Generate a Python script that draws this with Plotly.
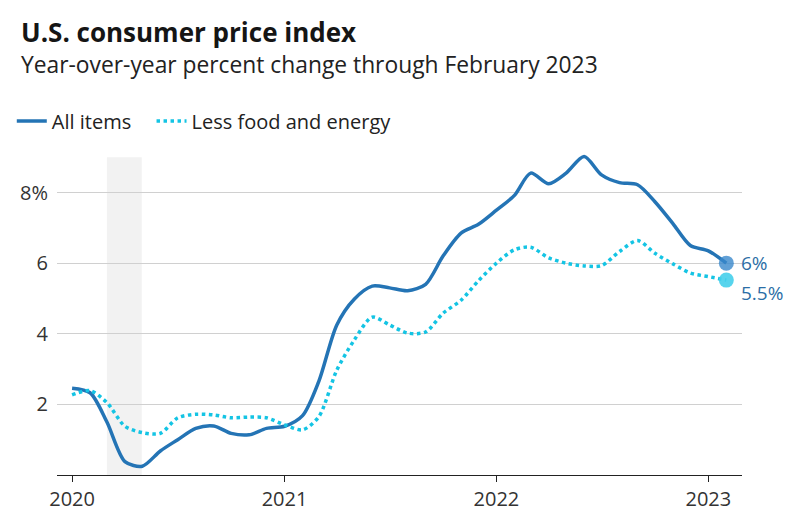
import pandas as pd
import plotly.graph_objects as go

# ---- data ----
months = pd.date_range("2020-01-01", "2023-02-01", freq="MS")
all_items = [2.46, 2.33, 1.50, 0.38, 0.25, 0.68, 1.00, 1.32, 1.39, 1.18, 1.14, 1.32,
             1.38, 1.68, 2.65, 4.25, 4.98, 5.35, 5.30, 5.22, 5.40, 6.20, 6.85, 7.10,
             7.50, 7.92, 8.55, 8.25, 8.55, 9.02, 8.50, 8.28, 8.22, 7.74, 7.12, 6.50,
             6.35, 6.00]
core = [2.27, 2.39, 2.05, 1.38, 1.20, 1.18, 1.62, 1.72, 1.70, 1.62, 1.64, 1.62,
        1.42, 1.28, 1.65, 2.97, 3.82, 4.47, 4.25, 4.02, 4.05, 4.58, 4.95, 5.50,
        6.00, 6.38, 6.45, 6.15, 6.00, 5.92, 5.93, 6.33, 6.64, 6.28, 5.98, 5.72,
        5.62, 5.52]
end_labels = ["6%", "5.5%"]
recession = ("2020-03-01", "2020-04-30")
year_ticks = ["2020-01-01", "2021-01-01", "2022-01-01", "2023-01-01"]
year_labels = ["2020", "2021", "2022", "2023"]
y_ticks = [2, 4, 6, 8]
y_labels = ["2", "4", "6", "8%"]

BLUE = "#2474b5"
CYAN = "#14c4e4"
FONT = "Open Sans"

fig = go.Figure()
fig.add_trace(go.Scatter(x=months, y=all_items, name="All items", mode="lines",
                         line=dict(color=BLUE, width=3.5, shape="spline", smoothing=0.8),
                         hoverinfo="skip", legend="legend"))
fig.add_trace(go.Scatter(x=months, y=core, name="Less food and energy", mode="lines",
                         line=dict(color=CYAN, width=3.5, dash="dot", shape="spline", smoothing=0.8),
                         hoverinfo="skip", legend="legend2"))
# end markers
fig.add_trace(go.Scatter(x=[months[-1]], y=[all_items[-1]], mode="markers", showlegend=False,
                         marker=dict(size=15, color="#3a88cc", opacity=0.8), hoverinfo="skip",
                         cliponaxis=False))
fig.add_trace(go.Scatter(x=[months[-1]], y=[core[-1]], mode="markers", showlegend=False,
                         marker=dict(size=15, color="#45cfeb", opacity=0.9), hoverinfo="skip",
                         cliponaxis=False))

for val, lab, ys in zip([all_items[-1], core[-1]], end_labels, [0, -13]):
    fig.add_annotation(x=months[-1], y=val, text=lab, showarrow=False, xanchor="left",
                       yanchor="middle", xshift=13, yshift=ys,
                       font=dict(family=FONT, size=19, color="#2c6ea6"))

fig.add_shape(type="rect", xref="x", yref="y", x0=recession[0], x1=recession[1], y0=0, y1=9.0,
              fillcolor="#f2f2f2", line=dict(width=0), layer="below")

fig.add_annotation(xref="paper", yref="paper", x=-0.056, y=1.35, xanchor="left", yanchor="middle",
                   text="<b>U.S. consumer price index</b>", showarrow=False,
                   font=dict(family=FONT, size=26, color="#151515"))
fig.add_annotation(xref="paper", yref="paper", x=-0.056, y=1.253, xanchor="left", yanchor="middle",
                   text="Year-over-year percent change through February 2023", showarrow=False,
                   font=dict(family=FONT, size=22.8, color="#222222"))

legend_style = dict(orientation="h", y=1.079, xanchor="left", yanchor="middle",
                    itemwidth=30, font=dict(family=FONT, size=20, color="#222222"),
                    bgcolor="rgba(0,0,0,0)")

fig.update_layout(
    width=797, height=520,
    margin=dict(l=49, r=63, t=139, b=53, autoexpand=False),
    paper_bgcolor="white", plot_bgcolor="white",
    font=dict(family=FONT, size=18, color="#333333"),
    showlegend=True,
    legend=dict(x=-0.066, **legend_style),
    legend2=dict(x=0.138, **legend_style),
    xaxis=dict(type="date", range=["2019-12-06", "2023-02-28"], tickvals=year_ticks,
               ticktext=year_labels, ticks="outside", ticklen=6, tickwidth=1.3, tickcolor="#222",
               showline=True, linecolor="#222", linewidth=1.3, showgrid=False, zeroline=False,
               automargin=False, tickfont=dict(family=FONT, size=20, color="#333")),
    yaxis=dict(range=[0, 9.29], tickvals=y_ticks, ticktext=y_labels, showgrid=True,
               gridcolor="#d0d0d0", gridwidth=1.3, zeroline=False, showline=False, ticks="",
               automargin=False, ticklabelstandoff=8, tickfont=dict(family=FONT, size=20, color="#333")),
)

fig.write_html("out.html")
